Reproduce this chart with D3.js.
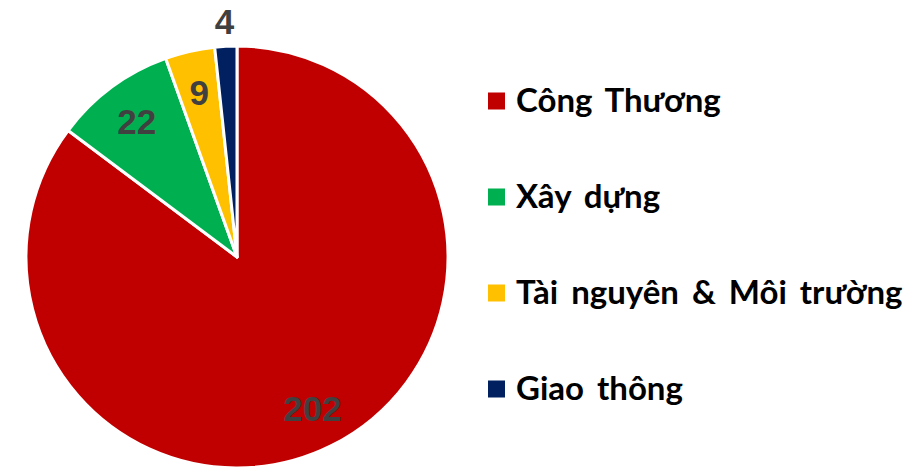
<!DOCTYPE html>
<html>
<head>
<meta charset="utf-8">
<script src="https://cdn.jsdelivr.net/npm/d3@7"></script>
<style>
  html, body { margin: 0; padding: 0; background: #fff; }
  .slice-label { font-family: "Liberation Sans", Arial, sans-serif; font-weight: bold; font-size: 35px; fill: #404040; }
  .legend-label { font-family: Lato, "Open Sans", sans-serif; font-weight: bold; font-size: 33px; fill: #000; word-spacing: 5px; }
</style>
</head>
<body>
<div class="chart"></div>
<script>
const categories = ['Công Thương', 'Xây dựng', 'Tài nguyên & Môi trường', 'Giao thông'];
const values = [202, 22, 9, 4];
const colours = ['#C00000', '#00B050', '#FFC000', '#002060'];

const width = 922, height = 469;
const cx = 237, cy = 257, radius = 211;

const data = categories.map((c, i) => ({ name: c, value: values[i], colour: colours[i] }));

const svg = d3.select('.chart').append('svg')
  .attr('width', width)
  .attr('height', height);

const pie = d3.pie().sort(null).value(d => d.value);
const arcs = pie(data);
const total = d3.sum(values);

const arc = d3.arc().innerRadius(0).outerRadius(radius);
const labelArc = d3.arc().innerRadius(radius * 0.8).outerRadius(radius * 0.8);
const outerArc = d3.arc().innerRadius(radius + 25).outerRadius(radius + 25);

const g = svg.append('g').attr('transform', `translate(${cx},${cy})`);

g.selectAll('path')
  .data(arcs)
  .enter()
  .append('path')
  .attr('d', arc)
  .attr('fill', d => d.data.colour)
  .attr('stroke', '#fff')
  .attr('stroke-width', 3)
  .attr('stroke-linejoin', 'round');

g.selectAll('.slice-label')
  .data(arcs)
  .enter()
  .append('text')
  .attr('class', 'slice-label')
  .attr('text-anchor', 'middle')
  .attr('dy', '0.36em')
  .attr('transform', d => {
    let p = d.data.value / total < 0.02 ? outerArc.centroid(d) : labelArc.centroid(d);
    return 'translate(' + p[0] + ',' + p[1] + ')';
  })
  .text(d => d.data.value);

//---------------

const legend = svg.append('g').attr('transform', 'translate(488,0)');

const legendY = d3.scalePoint()
  .domain(categories)
  .range([101, 389]);

const item = legend.selectAll('.legend-item')
  .data(data)
  .enter()
  .append('g')
  .attr('class', 'legend-item')
  .attr('transform', d => 'translate(0,' + legendY(d.name) + ')');

item.append('rect')
  .attr('x', 0)
  .attr('y', -8.5)
  .attr('width', 17)
  .attr('height', 17)
  .attr('fill', d => d.colour);

item.append('text')
  .attr('class', 'legend-label')
  .attr('x', 28)
  .attr('y', 11)
  .text(d => d.name);
</script>
</body>
</html>
